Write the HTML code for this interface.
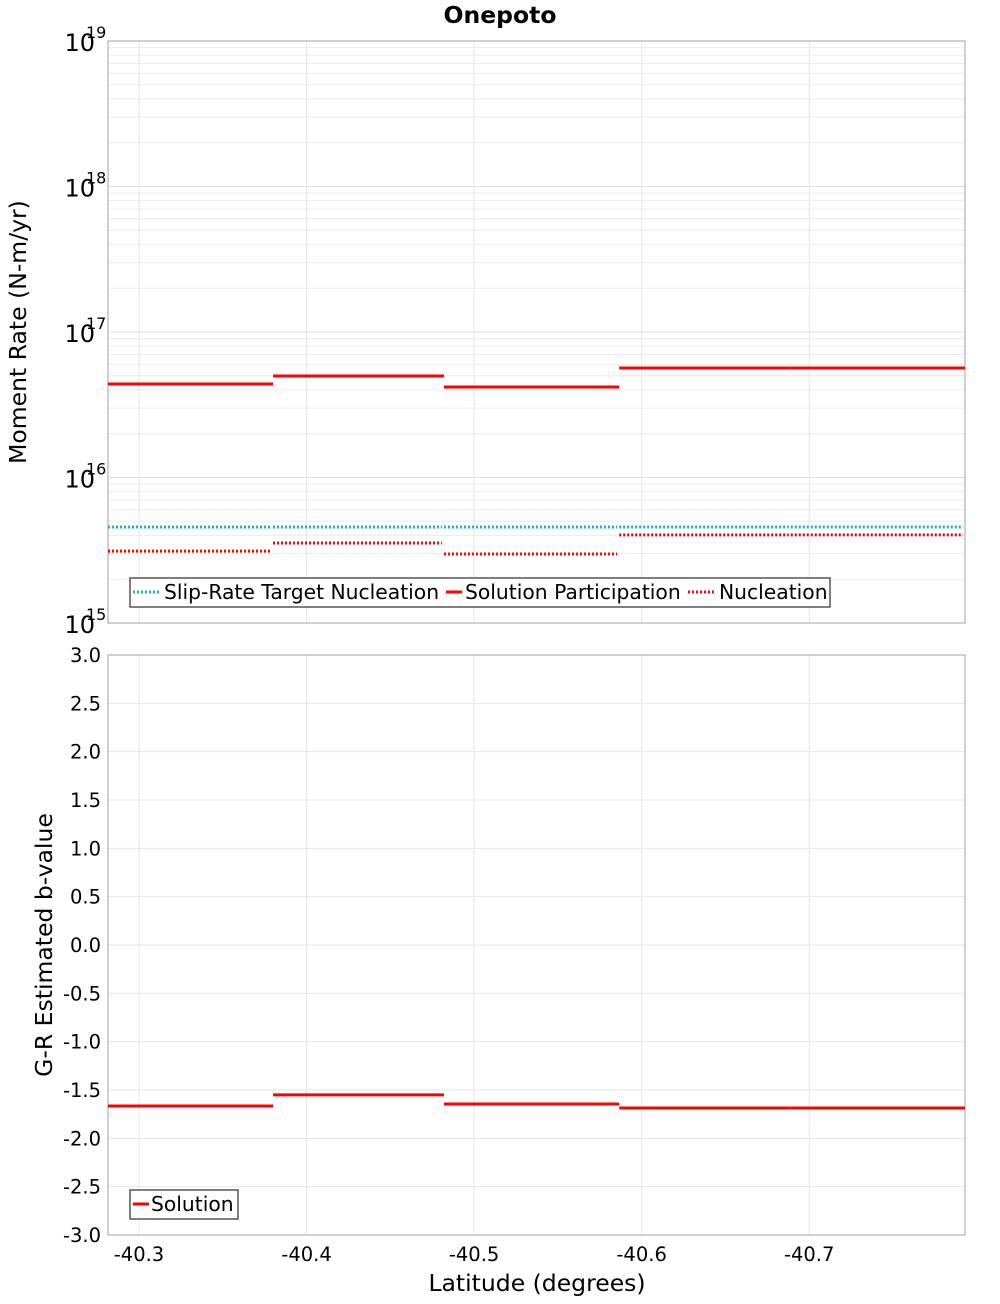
<!DOCTYPE html>
<html><head><meta charset="utf-8"><style>
body{margin:0;background:#fff;font-family:"DejaVu Sans","Liberation Sans",sans-serif}
svg text{font-family:"DejaVu Sans","Liberation Sans",sans-serif}
</style></head><body>
<svg id="c" width="1000" height="1300" xmlns="http://www.w3.org/2000/svg"></svg>
<script>
const segEdges=[-40.2815,-40.380,-40.482,-40.5866,-40.689,-40.793];
const participation=[4.39e16,4.98e16,4.19e16,5.66e16,5.66e16];
const targetNucleation=[4.57e15,4.57e15,4.57e15,4.57e15,4.57e15];
const nucleation=[3.12e15,3.55e15,2.98e15,4.03e15,4.03e15];
const bValues=[-1.665,-1.55,-1.645,-1.686,-1.686];
const xTicks=[-40.3,-40.4,-40.5,-40.6,-40.7];
const decades=[15,16,17,18,19];
const bTicks=[3.0,2.5,2.0,1.5,1.0,0.5,0.0,-0.5,-1.0,-1.5,-2.0,-2.5,-3.0];

const svg=document.getElementById('c');
const NS='http://www.w3.org/2000/svg';
function el(t,a,p){const e=document.createElementNS(NS,t);for(const k in a)e.setAttribute(k,a[k]);(p||svg).appendChild(e);return e;}
const L=108,R=965,T1=41,B1=623,T2=655,B2=1235;
const xs=v=>L+(v-segEdges[0])/(segEdges[5]-segEdges[0])*(R-L);
const y1=v=>B1-(Math.log10(v)-15)/4*(B1-T1);
const y2=v=>B2-(v+3)/6*(B2-T2);

for(let d=15;d<19;d++)for(let m=1;m<10;m++){const y=y1(m*Math.pow(10,d));const g=el('line',{x1:L,x2:R,y1:y,y2:y,stroke:m==1?'#e0e0e0':'#ececec','stroke-width':1});}
xTicks.forEach(t=>{const g=el('line',{x1:xs(t),x2:xs(t),y1:T1,y2:B1,stroke:'#e6e6e6'});});
bTicks.forEach(t=>{const g=el('line',{x1:L,x2:R,y1:y2(t),y2:y2(t),stroke:'#e6e6e6'});});
xTicks.forEach(t=>{const g=el('line',{x1:xs(t),x2:xs(t),y1:T2,y2:B2,stroke:'#e6e6e6'});});

let f=el('rect',{x:L,y:T1,width:R-L,height:B1-T1,fill:'none',stroke:'#a0a0a0'});

f=el('rect',{x:L,y:T2,width:R-L,height:B2-T2,fill:'none',stroke:'#a0a0a0'});


function series(arr,yf,color,dash,name){
  for(let i=0;i<arr.length;i++){
    const a={x1:xs(segEdges[i]),x2:xs(segEdges[i+1])-(dash?2:0),y1:yf(arr[i]),y2:yf(arr[i]),stroke:color,'stroke-width':3};
    if(dash)a['stroke-dasharray']='2,2';
    const s=el('line',a);
    
    
  }
}
series(targetNucleation,y1,'#1fb5b5',true,'target-nucleation');
series(nucleation,y1,'#ff0000',true,'nucleation');
series(participation,y1,'#ff0000',false,'participation');
series(bValues,y2,'#ff0000',false,'b-value');

decades.forEach(d=>{const y=y1(Math.pow(10,d));const t=el('text',{x:95,y:y+10,'text-anchor':'end','font-size':24});t.textContent='10';
const s=el('text',{x:86,y:y-3,'font-size':16});s.textContent=String(d);});
bTicks.forEach(v=>{const t=el('text',{x:101,y:y2(v)+7,'text-anchor':'end','font-size':19.5});t.textContent=v.toFixed(1);});
xTicks.forEach(v=>{const t=el('text',{x:xs(v),y:1261,'text-anchor':'middle','font-size':19.5});t.textContent=v.toFixed(1);});

let t=el('text',{x:500,y:23,'text-anchor':'middle','font-size':23.5,'font-weight':'bold'});t.textContent='Onepoto';

t=el('text',{x:537,y:1291,'text-anchor':'middle','font-size':23.5});t.textContent='Latitude (degrees)';

t=el('text',{x:0,y:0,'text-anchor':'middle','font-size':23.5,transform:'translate(26,332) rotate(-90)'});t.textContent='Moment Rate (N-m/yr)';

t=el('text',{x:0,y:0,'text-anchor':'middle','font-size':23.5,transform:'translate(52,945) rotate(-90)'});t.textContent='G-R Estimated b-value';


let g=el('g',{});
el('rect',{x:130,y:578,width:700,height:29,fill:'#fff',stroke:'#555','stroke-width':1.5},g);
el('line',{x1:133,x2:160,y1:592,y2:592,stroke:'#1fb5b5','stroke-width':3,'stroke-dasharray':'2,2'},g);
let lt=el('text',{x:164,y:599,'font-size':20.3},g);lt.textContent='Slip-Rate Target Nucleation';
el('line',{x1:446,x2:462,y1:592,y2:592,stroke:'#ff0000','stroke-width':3},g);
lt=el('text',{x:465,y:599,'font-size':20.3},g);lt.textContent='Solution Participation';
el('line',{x1:688,x2:716,y1:592,y2:592,stroke:'#ff0000','stroke-width':3,'stroke-dasharray':'2,2'},g);
lt=el('text',{x:719,y:599,'font-size':20.3},g);lt.textContent='Nucleation';
g=el('g',{});
el('rect',{x:130,y:1190,width:108,height:29,fill:'#fff',stroke:'#555','stroke-width':1.5},g);
el('line',{x1:133,x2:149,y1:1204,y2:1204,stroke:'#ff0000','stroke-width':3},g);
lt=el('text',{x:151,y:1211,'font-size':20.3},g);lt.textContent='Solution';
</script>
</body></html>
